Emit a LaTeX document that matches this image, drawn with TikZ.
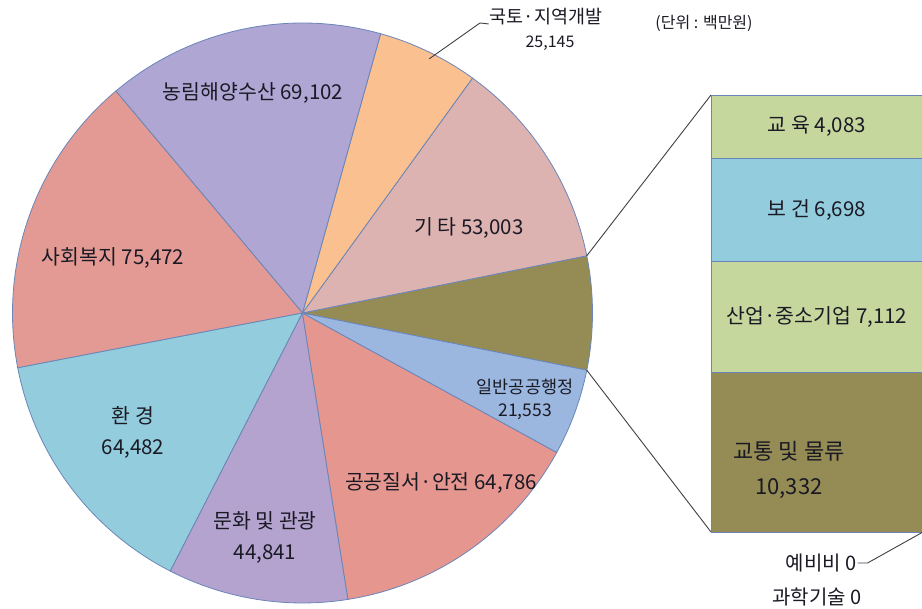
\documentclass[tikz,border=0pt]{standalone}
\usepackage{fontspec}
\setmainfont{Noto Sans CJK KR}
\usetikzlibrary{positioning}
\definecolor{cLand}{HTML}{FAC090}
\definecolor{cEtc}{HTML}{DDB3B2}
\definecolor{cAgri}{HTML}{AFA6D4}
\definecolor{cWelfare}{HTML}{E49A94}
\definecolor{cEnv}{HTML}{93CDDD}
\definecolor{cCulture}{HTML}{B4A3CF}
\definecolor{cSafety}{HTML}{E5968F}
\definecolor{cAdmin}{HTML}{9BB7DF}
\definecolor{cOlive}{HTML}{958B55}
\definecolor{cEdu}{HTML}{C6D79E}
\definecolor{cEdge}{HTML}{6A86B8}
\definecolor{cLead}{HTML}{404040}
\definecolor{cText}{HTML}{1A1A24}
\tikzset{
	slice/.style={draw=cEdge, line width=0.8pt, line join=round},
	barseg/.style={draw=cEdge, line width=0.8pt, minimum width=212pt, inner sep=0pt, outer sep=0pt, font=\fontsize{20.5}{24}\selectfont, text=cText},
	lbl/.style={font=\fontsize{20.5}{31}\selectfont, text=cText, align=center, inner sep=1pt},
	smalllbl/.style={font=\fontsize{16}{19}\selectfont, text=cText, inner sep=1pt},
	leader/.style={draw=cLead, line width=0.9pt}
}
\begin{document}
\begin{tikzpicture}[x=1pt,y=1pt]
	\useasboundingbox (0,0) rectangle (922,609);
	%%%pie
	\coordinate (c) at (302.5,296);
	\filldraw[slice, fill=cOlive] (c) -- ++(-11.376:290) arc[start angle=-11.376, end angle=11.376, radius=290] -- cycle;
	\filldraw[slice, fill=cEtc] (c) -- ++(11.376:290) arc[start angle=11.376, end angle=54.101, radius=290] -- cycle;
	\filldraw[slice, fill=cLand] (c) -- ++(54.101:290) arc[start angle=54.101, end angle=74.369, radius=290] -- cycle;
	\filldraw[slice, fill=cAgri] (c) -- ++(74.369:290) arc[start angle=74.369, end angle=130.07, radius=290] -- cycle;
	\filldraw[slice, fill=cWelfare] (c) -- ++(130.07:290) arc[start angle=130.07, end angle=190.906, radius=290] -- cycle;
	\filldraw[slice, fill=cEnv] (c) -- ++(190.906:290) arc[start angle=190.906, end angle=242.883, radius=290] -- cycle;
	\filldraw[slice, fill=cCulture] (c) -- ++(242.883:290) arc[start angle=242.883, end angle=279.028, radius=290] -- cycle;
	\filldraw[slice, fill=cSafety] (c) -- ++(279.028:290) arc[start angle=279.028, end angle=331.25, radius=290] -- cycle;
	\filldraw[slice, fill=cAdmin] (c) -- ++(331.25:290) arc[start angle=331.25, end angle=348.624, radius=290] -- cycle;
	\path (c) ++(11.376:290) coordinate (otop);
	\path (c) ++(-11.376:290) coordinate (obot);
	\path (c) ++(63.5:284) coordinate (landpt);
	
	\node[lbl] (agri) at (253,516) {농림해양수산 69,102};
	\node[lbl] (etc) at (469,381) {기 타 53,003};
	\node[lbl] (welfare) at (113,351) {사회복지 75,472};
	\node[lbl] (env) at (133,177) {환 경\\64,482};
	\node[lbl] (culture) at (265,72) {문화 및 관광\\44,841};
	\node[lbl] (safety) at (441,126) {공공질서·안전 64,786};
	\node[lbl, font=\fontsize{17.5}{23}\selectfont] (admin) at (525,210) {일반공공행정\\21,553};
	
	%%%bar
	\draw[leader] (otop) -- (711,514);
	\draw[leader] (obot) -- (711,77);
	\node[barseg, fill=cEdu, minimum height=63.2pt, anchor=north west] (edu) at (711,514) {교 육 4,083};
	\node[barseg, fill=cEnv, minimum height=103.7pt, below=0pt of edu] (health) {보 건 6,698};
	\node[barseg, fill=cEdu, minimum height=110.1pt, below=0pt of health] (industry) {산업·중소기업 7,112};
	\node[barseg, fill=cOlive, minimum height=160pt, below=0pt of industry] (trans) {};
	\node[lbl, font=\fontsize{22}{35}\selectfont] (translbl) at (789,139) {교통 및 물류\\10,332};
	
	%%%labels outside
	\node[smalllbl, font=\fontsize{18.5}{21}\selectfont] (landlbl) at (546,592) {국토·지역개발};
	\node[smalllbl] (landval) at (550,566) {25,145};
	\draw[leader] (landpt) -- (480,586) -- (landlbl.base west);
	\node[smalllbl] (unit) at (704,586) {(단위 : 백만원)};
	\node[smalllbl, font=\fontsize{20}{23}\selectfont] (resv) at (821,46) {예비비 0};
	\node[smalllbl, font=\fontsize{20}{23}\selectfont] (sci) at (817,12) {과학기술 0};
	\draw[leader] (resv.east) -- ++(10,0) -- (trans.south east);
\end{tikzpicture}
\end{document}
